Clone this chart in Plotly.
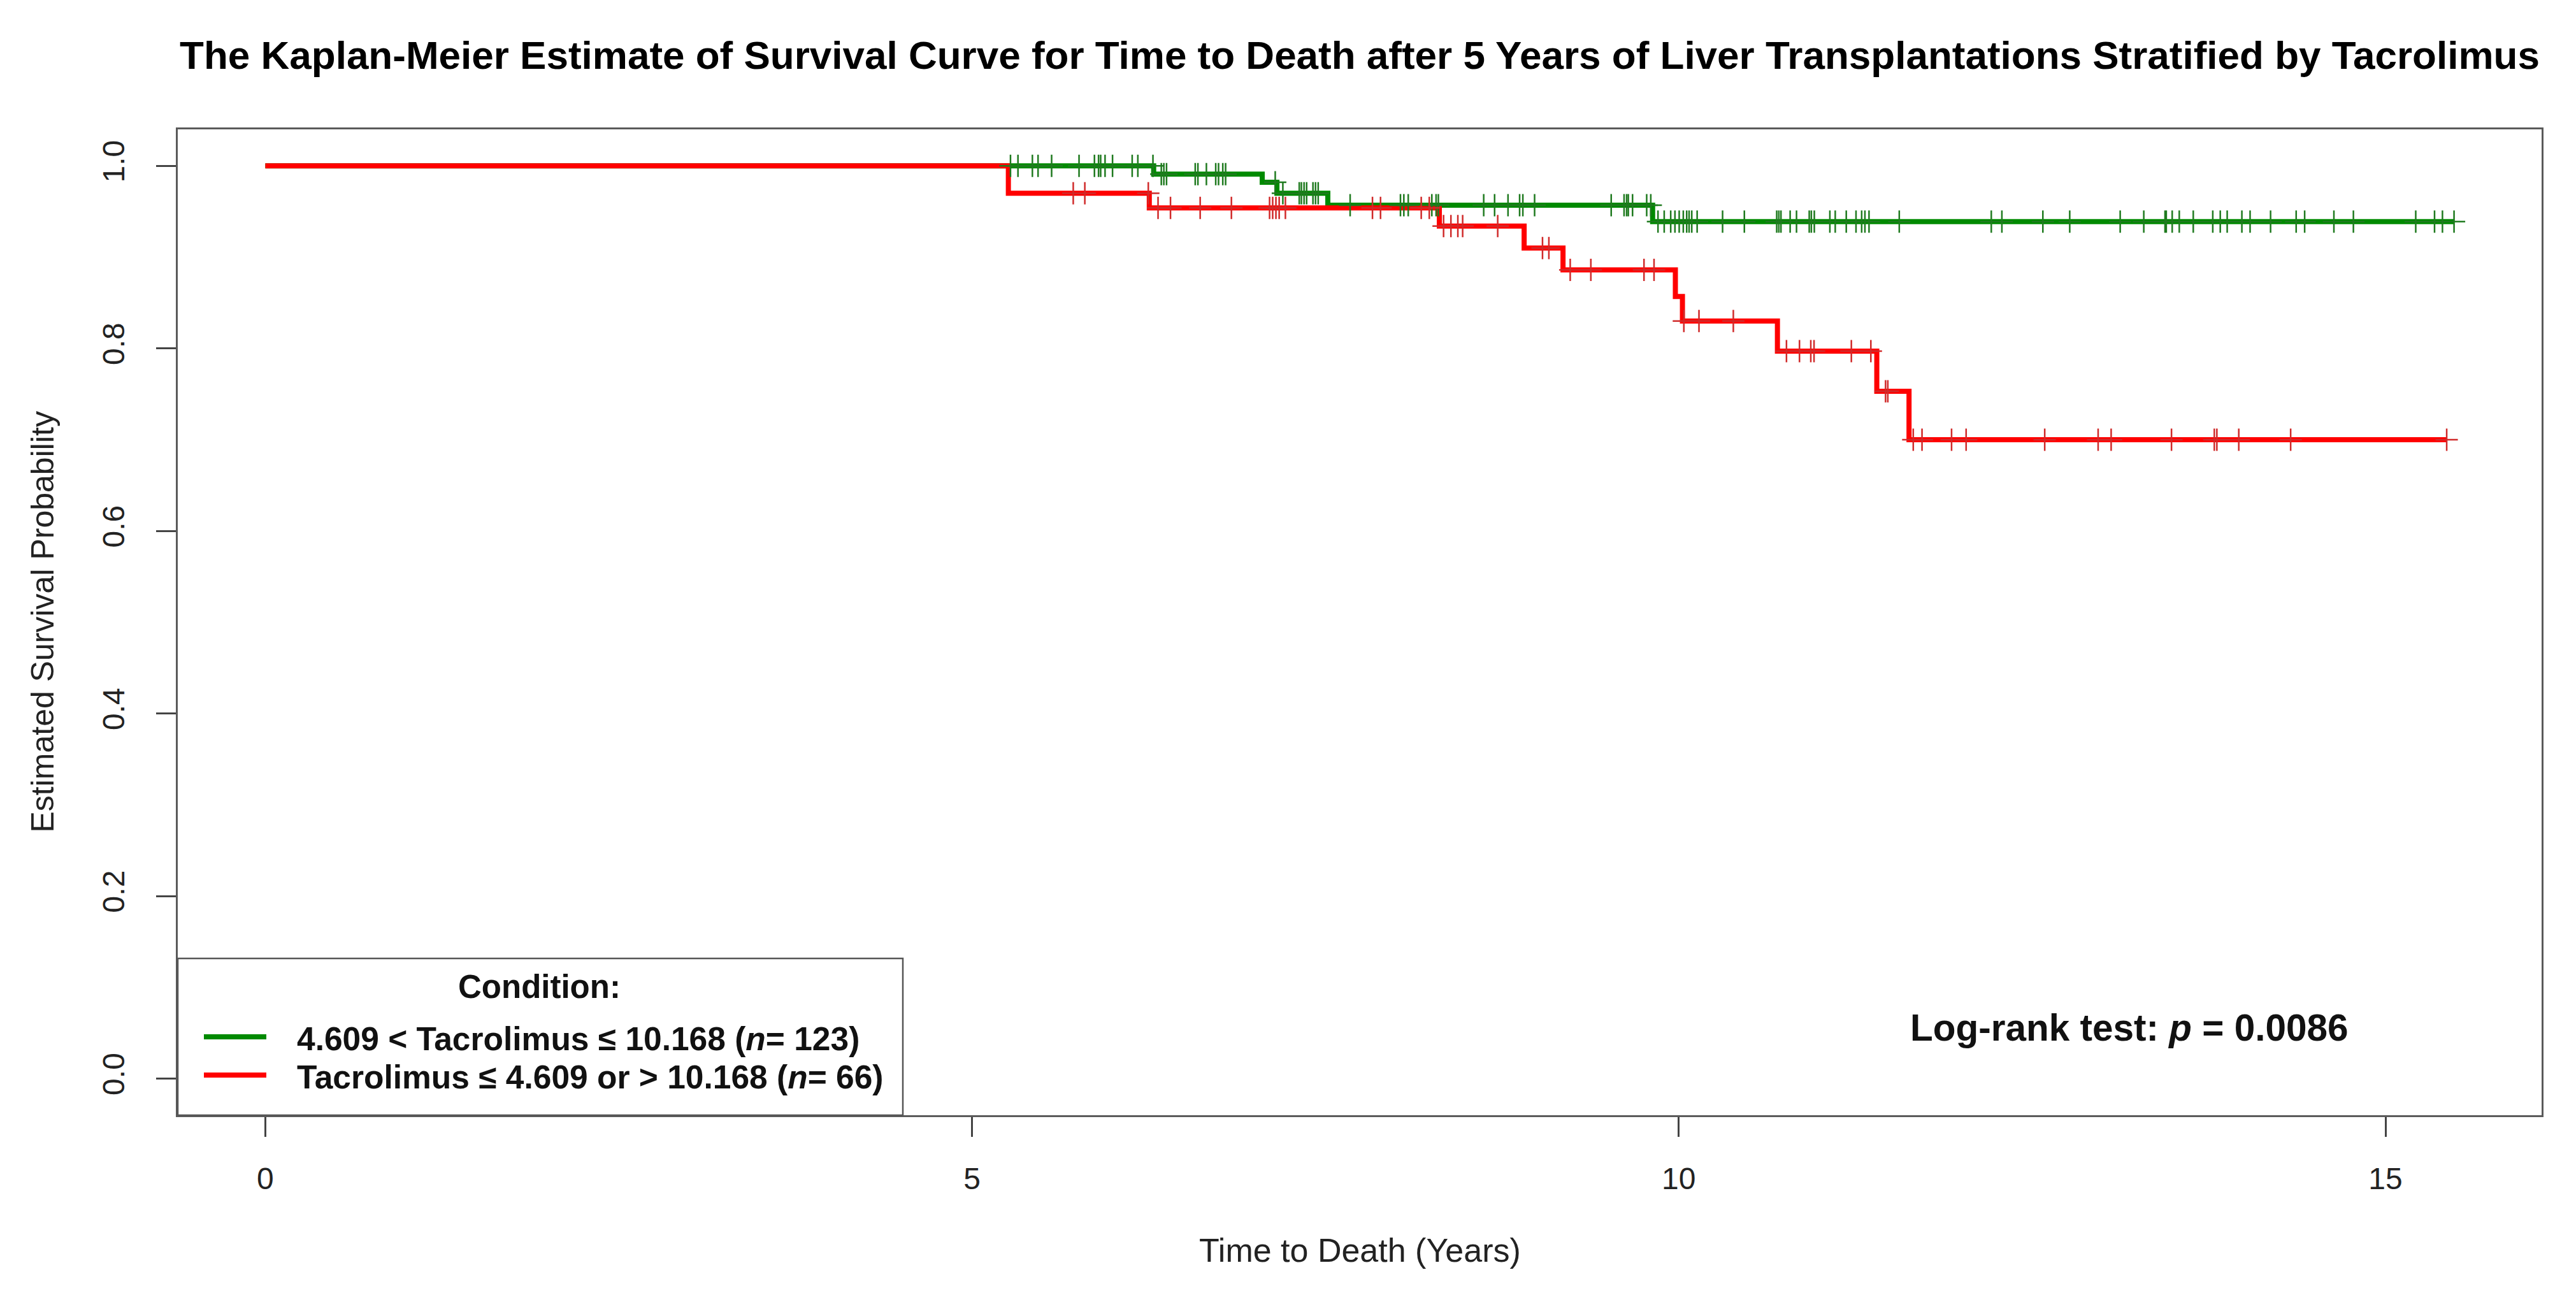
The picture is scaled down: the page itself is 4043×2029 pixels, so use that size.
import numpy as np
import plotly.graph_objects as go

# ---------------- data ----------------
# Group 1: 4.609 < Tacrolimus <= 10.168 (n = 123)
green_event_times = [0.0, 6.285, 7.053, 7.157, 7.517, 9.815]
green_surv = [1.000, 0.991, 0.982, 0.970, 0.957, 0.939]
green_end_time = 15.485
green_censor_times = [
    5.272, 5.325, 5.427, 5.467, 5.563, 5.757, 5.866, 5.895, 5.910, 5.941, 5.994, 6.133, 6.173, 6.280,
    6.339, 6.357, 6.376, 6.579, 6.598, 6.658, 6.724, 6.744, 6.774, 6.794,
    7.145,
    7.199, 7.315, 7.330, 7.349, 7.367, 7.412, 7.430, 7.449,
    7.675, 8.031, 8.055, 8.086, 8.253, 8.283, 8.299, 8.620, 8.697, 8.792, 8.874, 8.897, 8.980,
    9.522, 9.613, 9.631, 9.643, 9.673, 9.773, 9.802,
    9.853, 9.897, 9.943, 9.973, 10.003, 10.032, 10.056, 10.073, 10.092, 10.130, 10.310, 10.464,
    10.693, 10.708, 10.723, 10.788, 10.833, 10.923, 10.938, 10.959, 11.069, 11.107, 11.185,
    11.254, 11.294, 11.317, 11.346, 11.560, 12.211, 12.286, 12.576, 12.766, 13.123, 13.290,
    13.440, 13.449, 13.491, 13.541, 13.640, 13.778, 13.831, 13.880, 13.984, 14.042, 14.187,
    14.368, 14.428, 14.635, 14.773, 15.214, 15.347, 15.403, 15.485,
]

# Group 2: Tacrolimus <= 4.609 or > 10.168 (n = 66)
red_event_times = [0.0, 5.257, 6.254, 8.306, 8.906, 9.181, 9.976, 10.026, 10.698, 11.401, 11.629]
red_surv = [1.000, 0.970, 0.954, 0.934, 0.910, 0.886, 0.857, 0.830, 0.797, 0.753, 0.700]
red_end_time = 15.433
red_censor_times = [
    5.716, 5.798, 6.247, 6.316, 6.404, 6.614, 6.835, 7.105, 7.127, 7.150, 7.173, 7.217,
    7.833, 7.890, 8.178, 8.235, 8.336, 8.388, 8.437, 8.471, 8.719, 9.036, 9.081,
    9.232, 9.378, 9.754, 9.825, 10.036, 10.143, 10.386, 10.762, 10.854, 10.934, 10.957,
    11.221, 11.359, 11.463, 11.479, 11.659, 11.721, 11.930, 12.033, 12.589, 12.967,
    13.059, 13.486, 13.789, 13.807, 13.962, 14.329, 15.433,
]

group_labels = [
    "<b>4.609 &lt; Tacrolimus ≤ 10.168 (<i>n</i>= 123)</b>",
    "<b>Tacrolimus ≤ 4.609 or &gt; 10.168 (<i>n</i>= 66)</b>",
]
x_tick_vals = [0, 5, 10, 15]
y_tick_vals = [0.0, 0.2, 0.4, 0.6, 0.8, 1.0]

title_text = ("<b>The Kaplan-Meier Estimate of Survival Curve for Time to Death after 5 Years "
              "of Liver Transplantations Stratified by Tacrolimus</b>")
x_title = "Time to Death (Years)"
y_title = "Estimated Survival Probability"
legend_title = "<b>Condition:</b>"
test_text = "<b>Log-rank test: <i>p</i> = 0.0086</b>"

# ---------------- styles ----------------
GREEN = "#008a00"
RED = "#ff0000"
GREEN_MARK = "#1f7a1f"
RED_MARK = "#d02a2a"
FONT = "Liberation Sans, Arial, Helvetica, sans-serif"

W, H = 4043, 2029
LEFT, RIGHT, TOP, BOTTOM = 279, 3989, 203, 1750


def px_x(px):
    return (px - LEFT) / (RIGHT - LEFT)


def px_y(py):
    return (BOTTOM - py) / (BOTTOM - TOP)


def step_value(times, surv, t):
    idx = np.searchsorted(np.asarray(times), t, side="right") - 1
    return surv[idx]


def step_path(times, surv, end_time):
    xs = list(times) + [end_time]
    ys = list(surv) + [surv[-1]]
    return xs, ys


max_time = max(green_end_time, red_end_time)
x_range = [-0.04 * max_time, 1.04 * max_time]
y_range = [-0.04, 1.04]

fig = go.Figure()

gx, gy = step_path(green_event_times, green_surv, green_end_time)
rx, ry = step_path(red_event_times, red_surv, red_end_time)

fig.add_trace(go.Scatter(x=gx, y=gy, mode="lines", line=dict(color=GREEN, width=8, shape="hv"),
                         showlegend=False, hoverinfo="skip"))
fig.add_trace(go.Scatter(x=rx, y=ry, mode="lines", line=dict(color=RED, width=8, shape="hv"),
                         showlegend=False, hoverinfo="skip"))

fig.add_trace(go.Scatter(
    x=green_censor_times,
    y=[step_value(green_event_times, green_surv, t) for t in green_censor_times],
    mode="markers",
    marker=dict(symbol="cross-thin", size=25, line=dict(color=GREEN_MARK, width=2.5)),
    showlegend=False, hoverinfo="skip"))
fig.add_trace(go.Scatter(
    x=red_censor_times,
    y=[step_value(red_event_times, red_surv, t) for t in red_censor_times],
    mode="markers",
    marker=dict(symbol="cross-thin", size=25, line=dict(color=RED_MARK, width=2.5)),
    showlegend=False, hoverinfo="skip"))

# ---------------- manual legend (R style box) ----------------
leg_x1 = px_x(1417)
leg_y1 = px_y(1504)
fig.add_shape(type="rect", xref="paper", yref="paper", x0=0, x1=leg_x1, y0=0, y1=leg_y1,
              line=dict(color="#555555", width=2.5), fillcolor="white", layer="above")
fig.add_annotation(xref="paper", yref="paper", x=px_x(846), y=px_y(1548), text=legend_title,
                   showarrow=False, xanchor="center", yanchor="middle",
                   font=dict(family=FONT, size=51, color="#111111"))
for label, color, ypx in zip(group_labels, [GREEN, RED], [1627, 1687]):
    fig.add_shape(type="line", xref="paper", yref="paper", x0=px_x(320), x1=px_x(418),
                  y0=px_y(ypx), y1=px_y(ypx), line=dict(color=color, width=8), layer="above")
    fig.add_annotation(xref="paper", yref="paper", x=px_x(464), y=px_y(ypx + 3), text=label,
                       showarrow=False, xanchor="left", yanchor="middle",
                       font=dict(family=FONT, size=51.5, color="#111111"))

# log-rank annotation
fig.add_annotation(xref="paper", yref="paper", x=px_x(3342), y=px_y(1612), text=test_text,
                   showarrow=False, xanchor="center", yanchor="middle",
                   font=dict(family=FONT, size=58.5, color="#111111"))

# axis titles
fig.add_annotation(xref="paper", yref="paper", x=0.5, y=px_y(1962), text=x_title,
                   showarrow=False, xanchor="center", yanchor="middle",
                   font=dict(family=FONT, size=52, color="#222222"))
fig.add_annotation(xref="paper", yref="paper", x=px_x(66), y=0.5, text=y_title, textangle=-90,
                   showarrow=False, xanchor="center", yanchor="middle",
                   font=dict(family=FONT, size=50, color="#222222"))

fig.update_layout(
    width=W, height=H,
    margin=dict(l=LEFT, r=W - RIGHT, t=TOP, b=H - BOTTOM, pad=0),
    paper_bgcolor="white", plot_bgcolor="white",
    title=dict(text=title_text, x=0.5, xref="paper", xanchor="center",
               y=1 - 86 / H, yref="container", yanchor="middle",
               font=dict(family=FONT, size=62, color="#000000")),
    font=dict(family=FONT, color="#222222"),
    showlegend=False,
    xaxis=dict(range=x_range, tickvals=x_tick_vals, ticks="outside", ticklen=31, tickwidth=2.5,
               tickcolor="#444444", showline=True, mirror=True, linecolor="#5a5a5a", linewidth=3,
               showgrid=False, zeroline=False, tickfont=dict(family=FONT, size=48, color="#222222"),
               ticklabelstandoff=24),
    yaxis=dict(range=y_range, tickvals=y_tick_vals, tickformat=".1f", ticks="outside", ticklen=31,
               tickwidth=2.5, tickcolor="#444444", showline=True, mirror=True, linecolor="#5a5a5a",
               linewidth=3, showgrid=False, zeroline=False, tickangle=-90,
               tickfont=dict(family=FONT, size=48, color="#222222"), ticklabelstandoff=31),
)

fig.write_html("out.html", config={"displayModeBar": False},
               post_script="document.body.style.margin='0';document.body.style.overflow='hidden';")
